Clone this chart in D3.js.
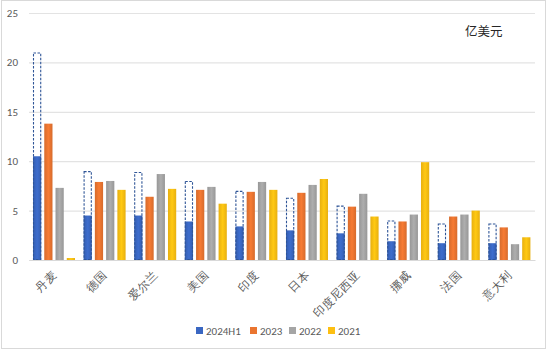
<!DOCTYPE html>
<html><head><meta charset="utf-8">
<script src="https://cdn.jsdelivr.net/npm/d3@7"></script>
<style>body{margin:0;background:#fff;}svg{display:block;font-family:"Microsoft YaHei","Noto Sans CJK SC",sans-serif;}</style>
</head><body><svg id="c" width="550" height="351"></svg>
<script>
const categories = ["丹麦","德国","爱尔兰","美国","印度","日本","印度尼西亚","挪威","法国","意大利"];
const seriesNames = ["2024H1","2023","2022","2021"];
const v2024H1 = [10.5,4.5,4.5,3.9,3.4,3.0,2.7,1.9,1.7,1.7];
const v2023   = [13.8,7.9,6.4,7.1,6.9,6.8,5.4,3.9,4.4,3.3];
const v2022   = [7.3,8.0,8.7,7.4,7.9,7.6,6.7,4.6,4.6,1.6];
const v2021   = [0.2,7.1,7.2,5.7,7.1,8.2,4.4,9.9,5.0,2.3];
const v2024Est = [21.0,9.0,8.9,8.0,7.0,6.3,5.5,4.0,3.7,3.7];
const yTicks = [0,5,10,15,20,25];
const colors = ["#3a67c2","#ea7530","#a5a5a5","#fdbf12"];
const unitLabel = "亿美元";

const svg = d3.select("#c");
const defs = svg.append("defs");
colors.forEach((c,i)=>{
  const g = defs.append("linearGradient").attr("id","g"+i).attr("x1",0).attr("x2",1).attr("y1",0).attr("y2",0);
  const cc = d3.color(c);
  g.append("stop").attr("offset","0%").attr("stop-color",cc.darker(0.25));
  g.append("stop").attr("offset","50%").attr("stop-color",cc.brighter(0.15));
  g.append("stop").attr("offset","100%").attr("stop-color",cc.darker(0.25));
});

svg.append("rect").attr("x",1.5).attr("y",0.5).attr("width",544).attr("height",348).attr("fill","#fff").attr("stroke","#d9d9d9");

const x = d3.scaleBand().domain(categories).range([29,535]).paddingInner(0).paddingOuter(0);
const y = d3.scaleLinear().domain([0,25]).range([260,13]);
const sub = d3.scaleBand().domain(seriesNames).range([4,46]).paddingInner(0.27);

const yAxis = d3.axisLeft(y).tickValues(yTicks).tickSize(-(535-29)).tickPadding(11);
const ya = svg.append("g").attr("transform","translate(29,0)").call(yAxis);
ya.select(".domain").remove();
ya.selectAll(".tick line").attr("stroke","#e3e3e3").attr("stroke-width",1.2);
ya.selectAll(".tick text").attr("fill","#595959").attr("font-size",11).attr("font-family","Calibri, Carlito, 'Liberation Sans', sans-serif");

const data = [v2024H1,v2023,v2022,v2021];
const gb = svg.append("g");
categories.forEach((cat,ci)=>{
  seriesNames.forEach((s,si)=>{
    const val = data[si][ci];
    gb.append("rect")
      .attr("x",x(cat)+sub(s)).attr("y",y(val))
      .attr("width",sub.bandwidth()).attr("height",y(0)-y(val))
      .attr("fill","url(#g"+si+")");
  });
  gb.append("rect")
    .attr("x",x(cat)+sub("2024H1")+0.5).attr("y",y(v2024Est[ci])+0.5)
    .attr("width",sub.bandwidth()-1).attr("height",y(0)-y(v2024Est[ci])-1)
    .attr("fill","none").attr("stroke","#2f5597").attr("stroke-width",1.1)
    .attr("stroke-dasharray","2.5,1.5");
});

const xAxis = d3.axisBottom(x).tickSize(0).tickPadding(0);
const xa = svg.append("g").attr("transform","translate(0,260)").call(xAxis);
xa.select(".domain").attr("stroke","#d9d9d9");
xa.selectAll(".tick text")
  .attr("fill","#595959").attr("font-size",11.5)
  .attr("text-anchor","end")
  .attr("dy",0)
  .attr("transform","translate(3,16) rotate(-45)");

svg.append("text").attr("x",465).attr("y",36).attr("font-size",12.5).attr("fill","#262626").text(unitLabel);

const lg = svg.append("g").attr("transform","translate(196,331)");
const lx = [0,54,93,132];
seriesNames.forEach((s,i)=>{
  const g = lg.append("g").attr("transform",`translate(${lx[i]},0)`);
  g.append("rect").attr("x",0).attr("y",-4).attr("width",7).attr("height",7).attr("fill",colors[i]);
  g.append("text").attr("x",10).attr("y",3.5).attr("font-size",11).attr("fill","#595959")
    .attr("font-family","Calibri, Carlito, 'Liberation Sans', sans-serif").text(s);
});
</script></body></html>
